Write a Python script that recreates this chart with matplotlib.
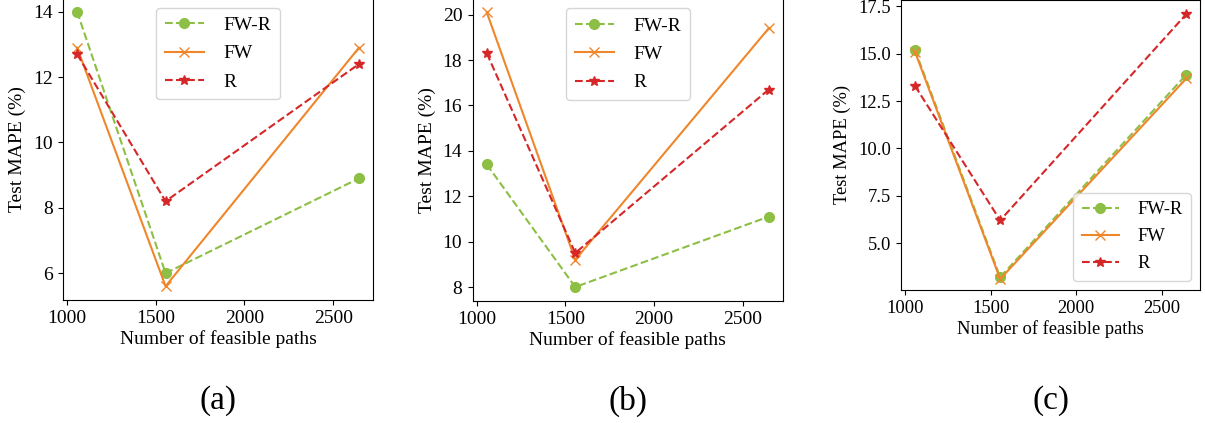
import matplotlib
matplotlib.use("Agg")
import matplotlib.pyplot as plt
from matplotlib.ticker import FormatStrFormatter

plt.rcParams['font.family'] = ['Liberation Serif', 'DejaVu Serif']
plt.rcParams['mathtext.fontset'] = 'stix'

# feasible path counts (x axis), shared by all panels
paths = [1058, 1556, 2645]

# Test MAPE (%) per panel
a_fwr = [14.0, 6.0, 8.9]
a_fw = [12.9, 5.6, 12.9]
a_r = [12.7, 8.2, 12.4]

b_fwr = [13.4, 8.0, 11.1]
b_fw = [20.1, 9.2, 19.4]
b_r = [18.3, 9.5, 16.7]

c_fwr = [15.2, 3.2, 13.9]
c_fw = [15.1, 3.1, 13.7]
c_r = [13.3, 6.2, 17.1]
c_yticks = [5.0, 7.5, 10.0, 12.5, 15.0, 17.5]

panel_labels = ['(a)', '(b)', '(c)']
legend_locs = ['upper center', 'upper center', 'lower right']
font_sizes = [14, 14, 13.3]

GREEN = '#8dbf45'
ORANGE = '#f0862a'
RED = '#d62728'

fig = plt.figure(figsize=(12.05, 4.23), dpi=100)

# axes boxes in figure fraction (top of the panels is cut by the frame)
boxes = [
    [0.0523, 0.2908, 0.2573, 0.7140],
    [0.3923, 0.2890, 0.2573, 0.7140],
    [0.7481, 0.3144, 0.2477, 0.6860],
]

data = [(a_fwr, a_fw, a_r), (b_fwr, b_fw, b_r), (c_fwr, c_fw, c_r)]

for i, (fwr, fw, r) in enumerate(data):
    fs = font_sizes[i]
    ax = fig.add_axes(boxes[i])
    ax.plot(paths, fwr, '--o', color=GREEN, label='FW-R', markersize=7)
    ax.plot(paths, fw, '-x', color=ORANGE, label='FW', markersize=7)
    ax.plot(paths, r, '--*', color=RED, label='R', markersize=7)
    ax.set_xticks([1000, 1500, 2000, 2500])
    if i == 2:
        ax.set_ylim(2.52, 17.85)
        ax.set_yticks(c_yticks)
        ax.yaxis.set_major_formatter(FormatStrFormatter('%.1f'))
    ax.tick_params(labelsize=fs, pad=4)
    ax.set_xlabel('Number of feasible paths', fontsize=fs, labelpad=2)
    ax.set_ylabel('Test MAPE (%)', fontsize=fs, labelpad=5)
    ax.legend(loc=legend_locs[i], fontsize=fs, borderpad=0.45,
              labelspacing=0.55, handletextpad=1.0)
    # subfigure caption under each panel
    cx = boxes[i][0] + boxes[i][2] / 2
    fig.text(cx, 0.052, panel_labels[i], ha='center', va='center', fontsize=24)

fig.savefig('out.png', dpi=100)
